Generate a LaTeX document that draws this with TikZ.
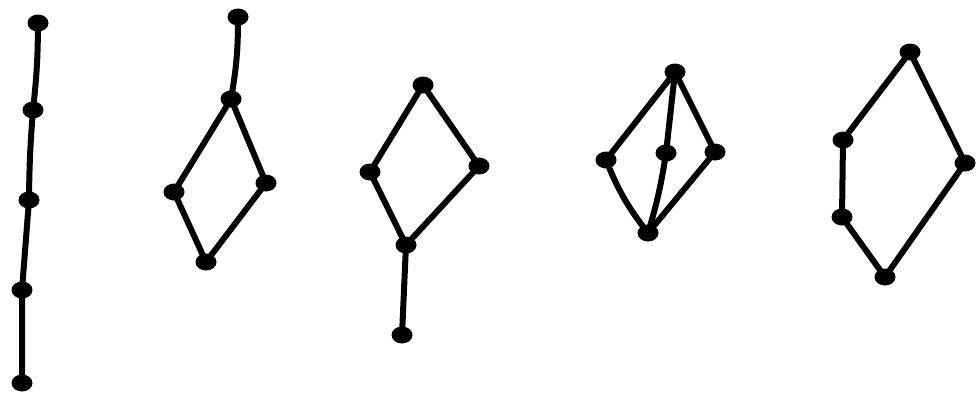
\documentclass[tikz,border=0pt]{standalone}
\usetikzlibrary{shapes.geometric}
\begin{document}
\begin{tikzpicture}[x=1pt,y=-1pt,
  dot/.style={ellipse,fill=black,draw=none,minimum width=21pt,minimum height=17pt,inner sep=0pt},
  edge/.style={line width=6pt,line cap=round,black}]
\useasboundingbox (0,0) rectangle (976,397);
% chain
\node[dot] (a1) at (38,23) {};
\node[dot] (a2) at (33,110) {};
\node[dot] (a3) at (29,200) {};
\node[dot] (a4) at (22,290) {};
\node[dot] (a5) at (22,383) {};
% lattice 2
\node[dot] (b1) at (238,17) {};
\node[dot] (b2) at (231,99) {};
\node[dot] (b3) at (174,192) {};
\node[dot] (b4) at (266,183) {};
\node[dot] (b5) at (206,262) {};
% lattice 3
\node[dot] (c1) at (423,85) {};
\node[dot] (c2) at (370,172) {};
\node[dot] (c3) at (479,166) {};
\node[dot] (c4) at (406,245) {};
\node[dot] (c5) at (402,335) {};
% lattice 4
\node[dot] (d1) at (675,72) {};
\node[dot] (d2) at (606,160) {};
\node[dot] (d3) at (666,153) {};
\node[dot] (d4) at (715,152) {};
\node[dot] (d5) at (648,233) {};
% lattice 5
\node[dot] (e1) at (910,52) {};
\node[dot] (e2) at (843,140) {};
\node[dot] (e3) at (842,217) {};
\node[dot] (e4) at (965,163) {};
\node[dot] (e5) at (885,277) {};
\begin{scope}[on background layer/.try]
\draw[edge] (a1.center) to[bend left=3] (a2.center) to[bend right=2] (a3.center) -- (a4.center) -- (a5.center);
\draw[edge] (b1.center) to[bend left=5] (b2.center);
\draw[edge] (b2.center) -- (b3.center) -- (b5.center) -- (b4.center) -- (b2.center);
\draw[edge] (c1.center) -- (c2.center) -- (c4.center) -- (c3.center) -- (c1.center);
\draw[edge] (c4.center) -- (c5.center);
\draw[edge] (d1.center) -- (d2.center);
\draw[edge] (d1.center) -- (d3.center);
\draw[edge] (d1.center) -- (d4.center);
\draw[edge] (d2.center) to[bend right=8] (d5.center);
\draw[edge] (d3.center) to[bend left=4] (d5.center);
\draw[edge] (d4.center) -- (d5.center);
\draw[edge] (e1.center) -- (e2.center) -- (e3.center) -- (e5.center) -- (e4.center) -- (e1.center);
\end{scope}
\end{tikzpicture}
\end{document}
